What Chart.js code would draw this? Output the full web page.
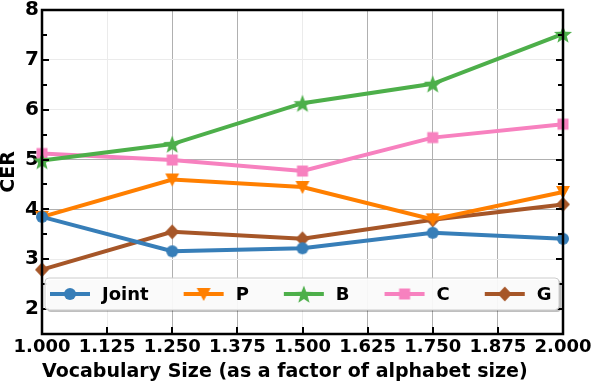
<!DOCTYPE html>
<html>
<head>
<meta charset="utf-8">
<script src="https://cdn.jsdelivr.net/npm/chart.js@4/dist/chart.umd.min.js"></script>
<style>
  html, body { margin: 0; padding: 0; background: #fff; }
  #wrap { width: 592px; height: 382px; }
</style>
</head>
<body>
<div id="wrap"><canvas id="chart" width="592" height="382"></canvas></div>
<script>
// vocabulary size factors
const factors = [1.0, 1.25, 1.5, 1.75, 2.0];

const jointCER = [3.85, 3.16, 3.22, 3.53, 3.41];
const pCER     = [3.85, 4.60, 4.45, 3.80, 4.35];
const bCER     = [4.98, 5.31, 6.13, 6.52, 7.52];
const cCER     = [5.12, 4.99, 4.77, 5.44, 5.71];
const gCER     = [2.79, 3.55, 3.41, 3.79, 4.10];

const seriesNames = ['Joint', 'P', 'B', 'C', 'G'];
const seriesColors = ['#377eb8', '#ff7f00', '#4daf4a', '#f781bf', '#a65628'];
const seriesShapes = ['circle', 'tridown', 'star', 'square', 'diamond'];

const FONT = '"DejaVu Sans", sans-serif';

// matplotlib-like marker images
function makeMarker(shape, color) {
  const s = 22;
  const c = document.createElement('canvas');
  c.width = s; c.height = s;
  const g = c.getContext('2d');
  g.fillStyle = color;
  g.beginPath();
  const m = s / 2;
  if (shape === 'circle') {
    g.arc(m, m, 6, 0, Math.PI * 2);
  } else if (shape === 'tridown') {
    g.moveTo(m - 7, m - 6); g.lineTo(m + 7, m - 6); g.lineTo(m, m + 7);
  } else if (shape === 'square') {
    g.rect(m - 5.5, m - 5.5, 11, 11);
  } else if (shape === 'diamond') {
    g.moveTo(m, m - 7.5); g.lineTo(m + 7, m); g.lineTo(m, m + 7.5); g.lineTo(m - 7, m);
  } else if (shape === 'star') {
    const R = 9.5, r = 4;
    for (let i = 0; i < 10; i++) {
      const a = -Math.PI / 2 + i * Math.PI / 5;
      const rad = i % 2 === 0 ? R : r;
      const px = m + rad * Math.cos(a), py = m + 1 + rad * Math.sin(a);
      if (i === 0) g.moveTo(px, py); else g.lineTo(px, py);
    }
  }
  g.closePath();
  g.fill();
  return c;
}

const markers = seriesShapes.map((s, i) => makeMarker(s, seriesColors[i]));
const allSeries = [jointCER, pCER, bCER, cCER, gCER];

const datasets = allSeries.map((vals, i) => ({
  label: seriesNames[i],
  data: factors.map((f, j) => ({ x: f, y: vals[j] })),
  borderColor: seriesColors[i],
  backgroundColor: seriesColors[i],
  borderWidth: 4,
  pointStyle: markers[i],
  pointRadius: 6,
  clip: false,
  tension: 0
}));

// grid shading differs per line in the reference (by tick index)
const xGridDark = [0, 0, 1, 1, 0, 1, 1, 1, 0];
const yGridDark = { 4: 1, 5: 1 };

const framePlugin = {
  id: 'frame',
  afterDatasetsDraw(chart) {
    const ctx = chart.ctx;
    const a = chart.chartArea;
    const xs = chart.scales.x, ys = chart.scales.y;
    ctx.save();
    ctx.strokeStyle = '#000';
    // inward ticks
    ctx.lineWidth = 2;
    ctx.beginPath();
    for (let v = 1.0; v <= 2.0001; v += 0.125) {
      const px = Math.round(xs.getPixelForValue(v));
      ctx.moveTo(px, a.bottom); ctx.lineTo(px, a.bottom - 7);
    }
    for (let v = 1.5; v <= 8.0001; v += 0.5) {
      const py = Math.round(ys.getPixelForValue(v));
      const len = Number.isInteger(v) ? 7 : 5;
      ctx.moveTo(a.left, py); ctx.lineTo(a.left + len, py);
      ctx.moveTo(a.right, py); ctx.lineTo(a.right - len, py);
    }
    ctx.stroke();
    // frame
    ctx.lineWidth = 2.5;
    ctx.strokeRect(a.left, a.top, a.right - a.left, a.bottom - a.top);

    // legend inside plot
    const lx = a.left + 3, ly = 278, lw = a.right - a.left - 7, lh = 32;
    ctx.fillStyle = 'rgba(0,0,0,0.25)';
    roundRect(ctx, lx + 2, ly + 2, lw, lh, 4); ctx.fill();
    ctx.fillStyle = 'rgba(255,255,255,0.92)';
    roundRect(ctx, lx, ly, lw, lh, 4); ctx.fill();
    ctx.strokeStyle = '#cccccc'; ctx.lineWidth = 1;
    roundRect(ctx, lx, ly, lw, lh, 4); ctx.stroke();

    ctx.font = 'bold 18px ' + FONT;
    ctx.textBaseline = 'middle';
    const cy = ly + lh / 2;
    let x = lx + 5;
    seriesNames.forEach((name, i) => {
      ctx.strokeStyle = seriesColors[i];
      ctx.lineWidth = 4;
      ctx.beginPath(); ctx.moveTo(x, cy); ctx.lineTo(x + 40, cy); ctx.stroke();
      ctx.drawImage(markers[i], x + 20 - 11, cy - 11);
      ctx.fillStyle = '#000';
      ctx.fillText(name, x + 52, cy + 1);
      x = x + 52 + ctx.measureText(name).width + 35;
    });
    ctx.restore();
  }
};

function roundRect(ctx, x, y, w, h, r) {
  ctx.beginPath();
  ctx.moveTo(x + r, y);
  ctx.lineTo(x + w - r, y); ctx.quadraticCurveTo(x + w, y, x + w, y + r);
  ctx.lineTo(x + w, y + h - r); ctx.quadraticCurveTo(x + w, y + h, x + w - r, y + h);
  ctx.lineTo(x + r, y + h); ctx.quadraticCurveTo(x, y + h, x, y + h - r);
  ctx.lineTo(x, y + r); ctx.quadraticCurveTo(x, y, x + r, y);
  ctx.closePath();
}

new Chart(document.getElementById('chart'), {
  type: 'line',
  data: { datasets: datasets },
  options: {
    responsive: false,
    animation: false,
    layout: { padding: { top: 8, right: 29, left: 0, bottom: 0 } },
    plugins: { legend: { display: false }, tooltip: { enabled: false } },
    scales: {
      x: {
        type: 'linear',
        min: 1.0,
        max: 2.0,
        afterFit(scale) {
          scale.height = 48;
          scale.paddingLeft = 0;
          scale.paddingRight = 0;
        },
        afterBuildTicks(scale) {
          scale.ticks = [];
          for (let v = 1.0; v <= 2.0001; v += 0.125) scale.ticks.push({ value: +v.toFixed(3) });
        },
        ticks: {
          callback: v => v.toFixed(3),
          color: '#000',
          font: { family: FONT, size: 18, weight: 'bold', lineHeight: 1 },
          padding: 4,
          maxRotation: 0,
          autoSkip: false
        },
        grid: {
          drawTicks: false,
          color: c => xGridDark[c.index] ? '#b0b0b0' : '#ebebeb',
          lineWidth: 1
        },
        border: { display: false },
        title: {
          display: true,
          align: 'start',
          text: 'Vocabulary Size (as a factor of alphabet size)',
          color: '#000',
          font: { family: FONT, size: 19, weight: 'bold', lineHeight: 1 },
          padding: { top: 9, bottom: 0 }
        }
      },
      y: {
        min: 1.5,
        max: 8,
        afterFit(scale) {
          scale.width = 42;
          scale.paddingTop = 0;
          scale.paddingBottom = 0;
        },
        ticks: {
          stepSize: 1,
          callback: v => Number.isInteger(v) ? String(v) : '',
          color: '#000',
          font: { family: FONT, size: 20, weight: 'bold', lineHeight: 0.8 },
          padding: 3
        },
        grid: {
          drawTicks: false,
          color: c => yGridDark[c.tick && c.tick.value] ? '#b0b0b0' : '#ebebeb',
          lineWidth: 1
        },
        border: { display: false },
        title: {
          display: true,
          text: 'CER',
          color: '#000',
          font: { family: FONT, size: 19, weight: 'bold', lineHeight: 1 },
          padding: { top: 0, bottom: 0 }
        }
      }
    }
  },
  plugins: [framePlugin]
});
</script>
</body>
</html>
